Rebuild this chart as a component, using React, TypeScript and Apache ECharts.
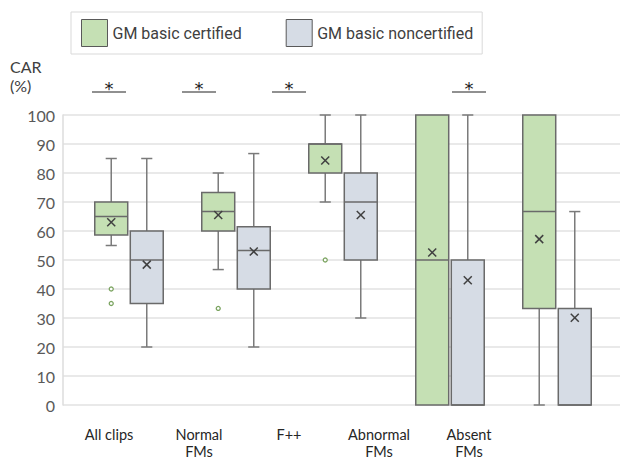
import React, { useEffect, useRef } from 'react';
import * as echarts from 'echarts';

const categories = ['All clips', 'Normal\nFMs', 'F++', 'Abnormal\nFMs', 'Absent\nFMs'];
const seriesNames = ['GM basic certified', 'GM basic noncertified'];

// each row: [min, Q1, median, Q3, max, mean]
const certifiedBoxes = [
  [55, 58.6, 65, 70, 85, 63],
  [46.7, 60, 66.7, 73.3, 80, 65.5],
  [70, 80, 90, 90, 100, 84.3],
  [0, 0, 50, 100, 100, 52.6],
  [0, 33.3, 66.7, 100, 100, 57.2],
];
const noncertifiedBoxes = [
  [20, 35, 50, 60, 85, 48.4],
  [20, 40, 53.3, 61.5, 86.7, 52.9],
  [30, 50, 70, 80, 100, 65.5],
  [0, 0, 0, 50, 100, 43.0],
  [0, 0, 0, 33.3, 66.7, 30.1],
];
// [category index, value]
const certifiedOutliers = [
  [0, 40],
  [0, 35],
  [1, 33.3],
  [2, 50],
];
const significant = [true, true, true, false, true];

const GREEN = '#c5e0b4';
const BLUE = '#d6dce5';
const STROKE = '#6a6a6a';
const WHISKER = '#7a7a7a';

const makeBoxRenderer = (side: number, fill: string) => (params: any, api: any) => {
  const cat = api.value(0);
  const mn = api.value(1);
  const q1 = api.value(2);
  const md = api.value(3);
  const q3 = api.value(4);
  const mx = api.value(5);
  const mean = api.value(6);
  const band = api.size([1, 0])[0];
  const cx = api.coord([cat, 0])[0] + side * band * 0.166;
  const w = band * 0.308;
  const cap = band * 0.052;
  const py = (v: number) => api.coord([cat, v])[1];
  const ls = { stroke: WHISKER, lineWidth: 1.5 };
  const children: any[] = [];
  if (mx > q3) {
    children.push({ type: 'line', shape: { x1: cx, y1: py(mx), x2: cx, y2: py(q3) }, style: ls });
    children.push({ type: 'line', shape: { x1: cx - cap, y1: py(mx), x2: cx + cap, y2: py(mx) }, style: ls });
  }
  if (mn < q1) {
    children.push({ type: 'line', shape: { x1: cx, y1: py(q1), x2: cx, y2: py(mn) }, style: ls });
    children.push({ type: 'line', shape: { x1: cx - cap, y1: py(mn), x2: cx + cap, y2: py(mn) }, style: ls });
  }
  children.push({
    type: 'rect',
    shape: { x: cx - w / 2, y: py(q3), width: w, height: py(q1) - py(q3) },
    style: { fill, stroke: STROKE, lineWidth: 1.5 },
  });
  children.push({
    type: 'line',
    shape: { x1: cx - w / 2, y1: py(md), x2: cx + w / 2, y2: py(md) },
    style: { stroke: STROKE, lineWidth: 1.5 },
  });
  const m = 4;
  const my = py(mean);
  children.push({ type: 'line', shape: { x1: cx - m, y1: my - m, x2: cx + m, y2: my + m }, style: { stroke: '#404040', lineWidth: 1.5 } });
  children.push({ type: 'line', shape: { x1: cx - m, y1: my + m, x2: cx + m, y2: my - m }, style: { stroke: '#404040', lineWidth: 1.5 } });
  return { type: 'group', children };
};

const makeOutlierRenderer = (side: number) => (params: any, api: any) => {
  const cat = api.value(0);
  const band = api.size([1, 0])[0];
  const pt = api.coord([cat, api.value(1)]);
  return {
    type: 'circle',
    shape: { cx: pt[0] + side * band * 0.166, cy: pt[1], r: 2 },
    style: { fill: '#ffffff', stroke: '#7aa35f', lineWidth: 1.3 },
  };
};

const sigRenderer = (params: any, api: any) => {
  const cat = api.value(0);
  const pt = api.coord([cat, 100]);
  const ly = pt[1] - 23;
  return {
    type: 'group',
    children: [
      { type: 'line', shape: { x1: pt[0] - 17, y1: ly, x2: pt[0] + 17, y2: ly }, style: { stroke: '#222', lineWidth: 1.2 } },
      {
        type: 'text',
        style: {
          text: '*',
          x: pt[0],
          y: ly - 4,
          align: 'center',
          verticalAlign: 'middle',
          fontSize: 18,
          fontFamily: 'DejaVu Sans',
          fill: '#222',
        },
      },
    ],
  };
};

export default function App() {
  const ref = useRef<HTMLDivElement>(null);
  useEffect(() => {
    document.body.style.margin = '0';
    const chart = echarts.init(ref.current!, null, { renderer: 'svg' });
    const gridTop = 115;
    const gridBottom = 56;
    const yHidden = (gi: number) => ({
      type: 'value', gridIndex: gi, min: 0, max: 100, interval: 10, show: false,
    });
    chart.setOption({
      animation: false,
      legend: {
        data: seriesNames,
        left: 71,
        top: 12,
        icon: 'rect',
        itemWidth: 26,
        itemHeight: 27,
        itemGap: 44,
        padding: [7, 9, 7, 10],
        borderColor: '#d9d9d9',
        borderWidth: 1,
        itemStyle: { borderColor: '#595959', borderWidth: 1 },
        textStyle: { fontFamily: 'Roboto', fontSize: 16, color: '#404040' },
        selectedMode: false,
      },
      graphic: [
        {
          type: 'text',
          left: 10,
          top: 57,
          style: {
            text: 'CAR\n(%)',
            align: 'center',
            fontFamily: 'Lato',
            fontSize: 16,
            lineHeight: 19,
            fill: '#404040',
          },
        },
      ],
      grid: [
        { left: 63, right: 0, top: gridTop, bottom: gridBottom, outerBoundsMode: 'none', containLabel: false },
        { left: 75.5, width: 535, top: gridTop, bottom: gridBottom, outerBoundsMode: 'none', containLabel: false },
        { left: 64, width: 540, top: gridTop, bottom: gridBottom, outerBoundsMode: 'none', containLabel: false },
      ],
      xAxis: [
        { type: 'category', gridIndex: 0, data: categories, show: false },
        { type: 'category', gridIndex: 1, data: categories, show: false },
        {
          type: 'category',
          gridIndex: 2,
          data: [...categories, ''],
          axisLine: { show: false },
          axisTick: { show: false },
          axisLabel: {
            margin: 21,
            verticalAlign: 'top',
            fontFamily: 'Lato',
            fontSize: 14.5,
            lineHeight: 17,
            color: '#262626',
            interval: 0,
          },
        },
      ],
      yAxis: [
        {
          type: 'value',
          gridIndex: 0,
          min: 0,
          max: 100,
          interval: 10,
          axisLine: { show: true, lineStyle: { color: '#dcdcdc', width: 1.5 } },
          axisTick: { show: false },
          splitLine: { lineStyle: { color: '#e2e2e2', width: 1.5 } },
          axisLabel: { margin: 8, fontFamily: 'Lato', fontSize: 16, color: '#595959' },
        },
        yHidden(1),
        yHidden(2),
      ],
      series: [
        {
          name: seriesNames[0],
          type: 'custom',
          xAxisIndex: 1,
          yAxisIndex: 1,
          itemStyle: { color: GREEN },
          renderItem: makeBoxRenderer(-1, GREEN),
          encode: { x: 0, y: [1, 2, 3, 4, 5, 6] },
          data: certifiedBoxes.map((b, i) => [i, ...b]),
          z: 3,
        },
        {
          name: seriesNames[1],
          type: 'custom',
          xAxisIndex: 1,
          yAxisIndex: 1,
          itemStyle: { color: BLUE },
          renderItem: makeBoxRenderer(1, BLUE),
          encode: { x: 0, y: [1, 2, 3, 4, 5, 6] },
          data: noncertifiedBoxes.map((b, i) => [i, ...b]),
          z: 3,
        },
        {
          name: 'certified outliers',
          type: 'custom',
          xAxisIndex: 1,
          yAxisIndex: 1,
          renderItem: makeOutlierRenderer(-1),
          encode: { x: 0, y: 1 },
          data: certifiedOutliers,
          z: 4,
        },
        {
          name: 'significance',
          type: 'custom',
          xAxisIndex: 2,
          yAxisIndex: 2,
          clip: false,
          renderItem: sigRenderer,
          encode: { x: 0, y: 1 },
          data: significant.map((s, i) => (s ? [i, 100] : null)).filter((d) => d !== null),
          z: 5,
        },
      ],
    });
    return () => chart.dispose();
  }, []);
  return <div ref={ref} style={{ width: 620, height: 461 }} />;
}
